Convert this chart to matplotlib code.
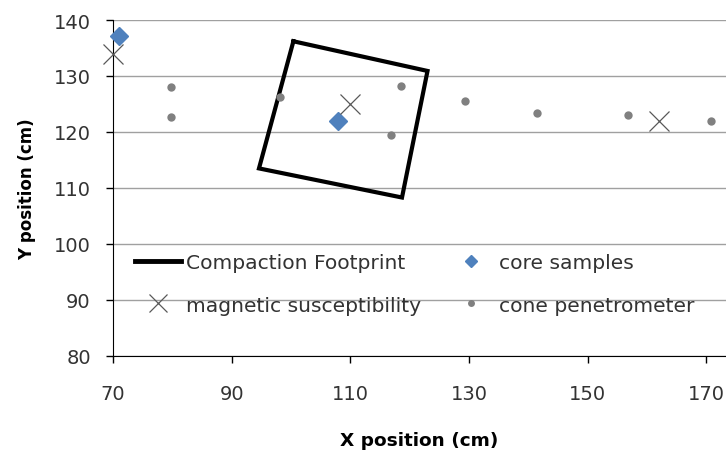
import numpy as np
import matplotlib
matplotlib.use('agg')
import matplotlib.pyplot as plt
from matplotlib.lines import Line2D

## data
foot_x = [100.4, 123.0, 118.7, 94.6, 100.4]
foot_y = [136.2, 130.9, 108.3, 113.5, 136.2]

core_x = [71.0, 107.9]
core_y = [137.1, 121.9]

mag_x = [70.05, 110.0, 162.0]
mag_y = [133.9, 125.0, 122.0]

cone_x = [79.8, 79.8, 98.1, 118.6, 116.8, 129.3, 141.4, 156.8, 170.7]
cone_y = [128.0, 122.7, 126.2, 128.3, 119.5, 125.6, 123.4, 123.1, 121.9]

plt.rcParams['font.family'] = ['DejaVu Sans']

fig = plt.figure(figsize=(7.26, 4.56), dpi=100)
ax = fig.add_axes([113/726, 99/456, 1 - 113/726, 336/456])

ax.plot(foot_x, foot_y, color='black', lw=3.0, solid_joinstyle='miter', zorder=3)
ax.plot(core_x, core_y, linestyle='none', marker='D', ms=9.5, color='#4F81BD', zorder=4, clip_on=False)
ax.plot(mag_x, mag_y, linestyle='none', marker='x', ms=15, mew=0.9, color='#595959', zorder=5, clip_on=False)
ax.plot(cone_x, cone_y, linestyle='none', marker='o', ms=6, color='#808080', mew=0, zorder=4, clip_on=False)

ax.set_xlim(70, 173.3)
ax.set_ylim(80, 140)
ax.set_xticks(np.arange(70, 171, 20))
ax.set_yticks(np.arange(80, 141, 10))
ax.yaxis.grid(True, color='#a0a0a0', lw=1.0)
ax.set_axisbelow(True)
for s in ['top', 'right']:
    ax.spines[s].set_visible(False)
ax.tick_params(direction='out', length=5, width=1, labelsize=14, colors='black')
ax.tick_params(axis='x', pad=15)
ax.tick_params(axis='y', pad=11)
for lab in ax.get_xticklabels() + ax.get_yticklabels():
    lab.set_color('#333333')
ax.set_xlabel('X position (cm)', fontsize=13.3, fontweight='bold', labelpad=20)
ax.set_ylabel('Y position (cm)', fontsize=12, fontweight='bold', labelpad=13)

handles = [
    Line2D([], [], color='black', lw=3.5),
    Line2D([], [], linestyle='none', marker='x', ms=13, mew=0.9, color='#595959'),
    Line2D([], [], linestyle='none', marker='D', ms=6, color='#4F81BD'),
    Line2D([], [], linestyle='none', marker='o', ms=5, mew=0, color='#808080'),
]
labels = ['Compaction Footprint', 'magnetic susceptibility', 'core samples', 'cone penetrometer']
leg = ax.legend(handles, labels, ncol=2, frameon=False, fontsize=14.6, loc='upper left',
                bbox_to_anchor=(0.036, 0.306), borderaxespad=0, borderpad=0,
                handlelength=2.28, handletextpad=0.25,
                columnspacing=1.3, labelspacing=1.15)
for t in leg.get_texts():
    t.set_color('#333333')

plt.savefig('out.png', dpi=100)
